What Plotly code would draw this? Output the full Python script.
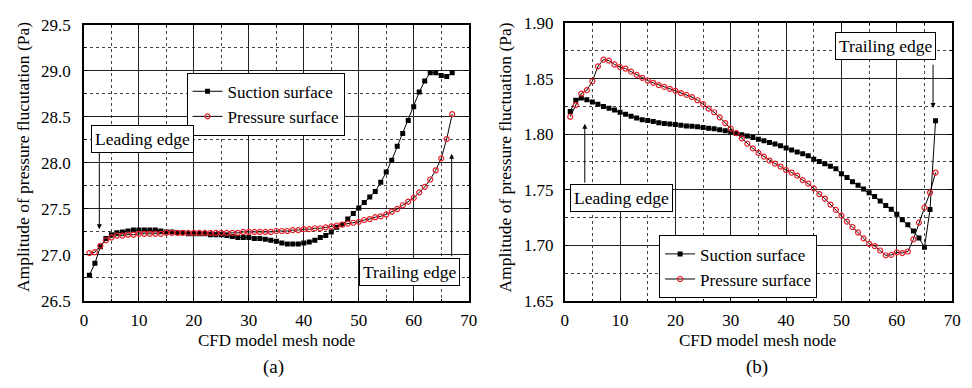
import plotly.graph_objects as go

nodes = list(range(1, 68))

# Panel (a)
a_suction = [26.78, 26.91, 27.09, 27.18, 27.22, 27.24, 27.25, 27.26, 27.27, 27.27,
             27.27, 27.27, 27.27, 27.26, 27.25, 27.25, 27.24, 27.24, 27.23, 27.23,
             27.23, 27.23, 27.22, 27.22, 27.22, 27.21, 27.20, 27.19, 27.19, 27.19,
             27.18, 27.18, 27.17, 27.16, 27.15, 27.13, 27.12, 27.12, 27.12, 27.13,
             27.14, 27.16, 27.19, 27.21, 27.25, 27.30, 27.33, 27.39, 27.45, 27.51,
             27.57, 27.63, 27.69, 27.79, 27.90, 28.03, 28.18, 28.32, 28.46, 28.61,
             28.77, 28.89, 28.98, 28.98, 28.95, 28.94, 28.98]
a_pressure = [27.02, 27.03, 27.10, 27.16, 27.19, 27.21, 27.21, 27.22, 27.22, 27.23,
              27.23, 27.23, 27.23, 27.23, 27.24, 27.24, 27.24, 27.24, 27.24, 27.24,
              27.24, 27.24, 27.24, 27.24, 27.24, 27.24, 27.24, 27.24, 27.25, 27.25,
              27.25, 27.25, 27.25, 27.25, 27.26, 27.26, 27.26, 27.27, 27.27, 27.28,
              27.28, 27.29, 27.29, 27.30, 27.31, 27.32, 27.33, 27.34, 27.35, 27.36,
              27.38, 27.39, 27.41, 27.42, 27.44, 27.47, 27.50, 27.54, 27.58, 27.62,
              27.68, 27.74, 27.82, 27.92, 28.05, 28.26, 28.53]

# Panel (b)
b_suction = [1.8205, 1.8305, 1.8325, 1.8310, 1.8290, 1.8270, 1.8250, 1.8234, 1.8217, 1.8197,
             1.8180, 1.8162, 1.8145, 1.8130, 1.8123, 1.8114, 1.8103, 1.8097, 1.8091, 1.8086,
             1.8080, 1.8074, 1.8071, 1.8066, 1.8060, 1.8054, 1.8048, 1.8040, 1.8031, 1.8020,
             1.8006, 1.7994, 1.7983, 1.7969, 1.7954, 1.7940, 1.7926, 1.7912, 1.7895, 1.7875,
             1.7857, 1.7840, 1.7823, 1.7806, 1.7775, 1.7755, 1.7735, 1.7712, 1.7690, 1.7644,
             1.7610, 1.7573, 1.7541, 1.7507, 1.7473, 1.7439, 1.7398, 1.7359, 1.7324, 1.7279,
             1.7230, 1.7185, 1.7130, 1.7066, 1.6983, 1.7322, 1.8120]
b_pressure = [1.8157, 1.8262, 1.8365, 1.8396, 1.8476, 1.8610, 1.8670, 1.8661, 1.8627, 1.8604,
              1.8590, 1.8562, 1.8533, 1.8507, 1.8482, 1.8462, 1.8442, 1.8425, 1.8408, 1.8390,
              1.8370, 1.8353, 1.8333, 1.8305, 1.8270, 1.8230, 1.8197, 1.8151, 1.8100, 1.8051,
              1.8009, 1.7963, 1.7914, 1.7872, 1.7832, 1.7798, 1.7763, 1.7735, 1.7709, 1.7678,
              1.7655, 1.7627, 1.7587, 1.7555, 1.7513, 1.7461, 1.7421, 1.7367, 1.7319, 1.7267,
              1.7213, 1.7165, 1.7116, 1.7063, 1.7014, 1.6994, 1.6954, 1.6911, 1.6914, 1.6937,
              1.6931, 1.6945, 1.7054, 1.7205, 1.7339, 1.7475, 1.7655]

series_names = ["Suction surface", "Pressure surface"]
x_title = "CFD model mesh node"
y_title_a = "Amplitude of pressure flucutation (Pa)"
y_title_b = "Amplitude of pressure fluctuation (Pa)"

FONT = "'Liberation Serif', 'DejaVu Serif', 'Times New Roman', serif"
W, H = 972, 388

fig = go.Figure()

suction_style = dict(mode="lines+markers", line=dict(color="black", width=1),
                     marker=dict(symbol="square", size=5, color="black"))
pressure_style = dict(mode="lines+markers", line=dict(color="black", width=1),
                      marker=dict(symbol="circle-open", size=5, color="#e8202a",
                                  line=dict(width=1.2, color="#e8202a")))

fig.add_trace(go.Scatter(x=nodes, y=a_suction, name=series_names[0], xaxis="x", yaxis="y",
                         legend="legend", **suction_style))
fig.add_trace(go.Scatter(x=nodes, y=a_pressure, name=series_names[1], xaxis="x", yaxis="y",
                         legend="legend", **pressure_style))
fig.add_trace(go.Scatter(x=nodes, y=b_suction, name=series_names[0], xaxis="x2", yaxis="y2",
                         legend="legend2", **suction_style))
fig.add_trace(go.Scatter(x=nodes, y=b_pressure, name=series_names[1], xaxis="x2", yaxis="y2",
                         legend="legend2", **pressure_style))


def px_x(p):
    return p / W


def px_y(p):
    return 1 - p / H


axis_common = dict(showline=True, linecolor="black", linewidth=1.5, mirror="allticks",
                   ticks="inside", ticklen=4, tickcolor="black", tickwidth=1,
                   showgrid=True, gridcolor="#222", gridwidth=1, zeroline=False,
                   tickfont=dict(family=FONT, size=17, color="black"))

fig.update_layout(
    width=W, height=H, margin=dict(l=0, r=0, t=0, b=0),
    plot_bgcolor="white", paper_bgcolor="white",
    font=dict(family=FONT, color="black"),
    xaxis=dict(domain=[px_x(81), px_x(471)], range=[0, 70], dtick=10, anchor="y",
               ticklabelstandoff=3,
               minor=dict(dtick=5, showgrid=True, griddash="dot", gridcolor="#444",
                          ticks="inside", ticklen=2), **axis_common),
    yaxis=dict(domain=[px_y(307), px_y(16.7)], range=[26.5, 29.5], dtick=0.5, tickformat=".1f",
               anchor="x", ticklabelstandoff=8,
               minor=dict(dtick=0.25, showgrid=True, griddash="dot", gridcolor="#444",
                          ticks="inside", ticklen=2), **axis_common),
    xaxis2=dict(domain=[px_x(568.3), px_x(961)], range=[0, 70], dtick=10, anchor="y2",
                ticklabelstandoff=3,
                minor=dict(dtick=5, showgrid=True, griddash="dot", gridcolor="#444",
                           ticks="inside", ticklen=2), **axis_common),
    yaxis2=dict(domain=[px_y(307), px_y(14.7)], range=[1.65, 1.90], dtick=0.05, tickformat=".2f",
                anchor="x2", ticklabelstandoff=6,
                minor=dict(dtick=0.025, showgrid=True, griddash="dot", gridcolor="#444",
                           ticks="inside", ticklen=2), **axis_common),
    legend=dict(x=px_x(185), y=px_y(67), xanchor="left", yanchor="top",
                bgcolor="white", bordercolor="black", borderwidth=1,
                font=dict(family=FONT, size=17, color="black"), tracegroupgap=0,
                itemwidth=30),
    legend2=dict(x=px_x(664), y=px_y(238), xanchor="left", yanchor="top",
                 bgcolor="white", bordercolor="black", borderwidth=1,
                 font=dict(family=FONT, size=17, color="black"), tracegroupgap=0,
                 itemwidth=30),
)

ann = []
txt = dict(family=FONT, color="black")
# axis titles
ann.append(dict(text=x_title, x=px_x(276), y=px_y(349), xref="paper", yref="paper",
                showarrow=False, font=dict(size=17, **txt), xanchor="center", yanchor="middle"))
ann.append(dict(text=x_title, x=px_x(764), y=px_y(349), xref="paper", yref="paper",
                showarrow=False, font=dict(size=17, **txt), xanchor="center", yanchor="middle"))
ann.append(dict(text=y_title_a, x=px_x(20), y=px_y(156), xref="paper", yref="paper",
                showarrow=False, textangle=-90, font=dict(size=17.5, **txt),
                xanchor="center", yanchor="middle"))
ann.append(dict(text=y_title_b, x=px_x(508), y=px_y(156), xref="paper", yref="paper",
                showarrow=False, textangle=-90, font=dict(size=17.5, **txt),
                xanchor="center", yanchor="middle"))
ann.append(dict(text="(a)", x=px_x(273), y=px_y(376), xref="paper", yref="paper",
                showarrow=False, font=dict(size=19, **txt), xanchor="center", yanchor="middle"))
ann.append(dict(text="(b)", x=px_x(763), y=px_y(376), xref="paper", yref="paper",
                showarrow=False, font=dict(size=19, **txt), xanchor="center", yanchor="middle"))

box = dict(showarrow=False, bgcolor="white", bordercolor="black", borderwidth=1,
           borderpad=3, font=dict(size=17.5, **txt), xanchor="center", yanchor="middle")
# panel (a) boxes and arrows
ann.append(dict(text="Leading edge", x=10.6, y=28.26, xref="x", yref="y", **box))
ann.append(dict(text="Trailing edge", x=59.3, y=26.81, xref="x", yref="y", **box))
ann.append(dict(text="", x=2.8, y=27.28, ax=2.8, ay=28.13, xref="x", yref="y",
                axref="x", ayref="y", showarrow=True, arrowhead=2, arrowsize=1,
                arrowwidth=1, arrowcolor="black"))
ann.append(dict(text="", x=66.9, y=28.10, ax=66.9, ay=26.97, xref="x", yref="y",
                axref="x", ayref="y", showarrow=True, arrowhead=2, arrowsize=1,
                arrowwidth=1, arrowcolor="black"))
# panel (b) boxes and arrows
ann.append(dict(text="Trailing edge", x=58.05, y=1.879, xref="x2", yref="y2", **box))
ann.append(dict(text="Leading edge", x=10.3, y=1.7426, xref="x2", yref="y2", **box))
ann.append(dict(text="", x=66.55, y=1.8236, ax=66.55, ay=1.8638, xref="x2", yref="y2",
                axref="x2", ayref="y2", showarrow=True, arrowhead=2, arrowsize=1,
                arrowwidth=1, arrowcolor="black"))
ann.append(dict(text="", x=3.63, y=1.8094, ax=3.63, ay=1.755, xref="x2", yref="y2",
                axref="x2", ayref="y2", showarrow=True, arrowhead=2, arrowsize=1,
                arrowwidth=1, arrowcolor="black"))

fig.update_layout(annotations=ann)
fig.write_html("out.html")
